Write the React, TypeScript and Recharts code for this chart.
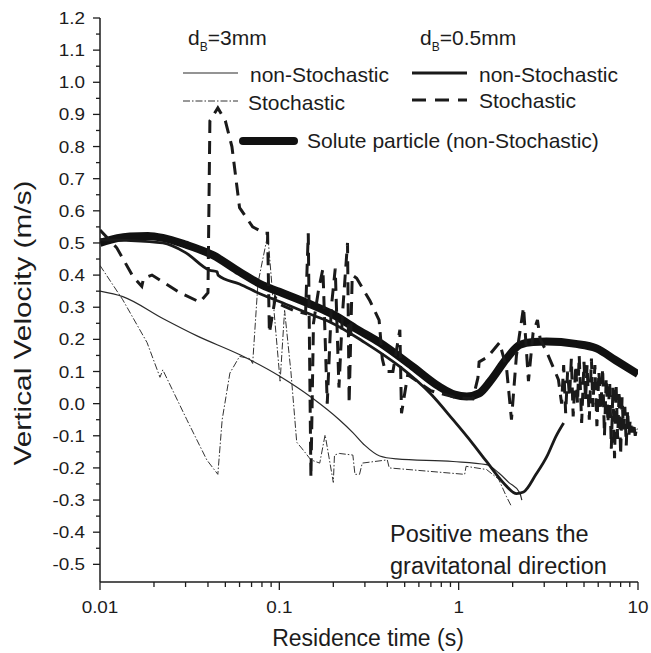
import React from "react";
import { LineChart, Line, XAxis, YAxis } from "recharts";

// residence time (s) / vertical velocity (m/s) pairs
const SMALL_NON: [number, number][] = [
  [0.01, 0.35], [0.0134, 0.333], [0.0224, 0.265], [0.035, 0.21], [0.0603, 0.152],
  [0.1, 0.086], [0.154, 0.016], [0.216, -0.05], [0.257, -0.09], [0.3, -0.13],
  [0.363, -0.163], [0.45, -0.172], [0.93, -0.18], [1.43, -0.19], [1.67, -0.215],
  [1.9, -0.245], [2.19, -0.277], [2.25, -0.3],
];

const SMALL_STOCH: [number, number][] = [
  [0.01, 0.43], [0.0134, 0.323], [0.0183, 0.19], [0.0216, 0.082], [0.0224, 0.105],
  [0.0305, -0.05], [0.0394, -0.175], [0.0454, -0.22], [0.048, -0.05], [0.053, 0.095],
  [0.06, 0.147], [0.0685, 0.14], [0.071, 0.125], [0.076, 0.375], [0.0862, 0.526],
  [0.093, 0.3], [0.101, 0.07], [0.107, 0.29], [0.116, 0.1], [0.125, -0.12],
  [0.133, -0.138], [0.15, -0.175], [0.168, -0.185], [0.18, -0.097], [0.2, -0.245],
  [0.203, -0.16], [0.216, -0.155], [0.257, -0.16], [0.264, -0.22], [0.28, -0.22],
  [0.29, -0.185], [0.4, -0.175], [0.41, -0.2], [1.08, -0.22], [1.1, -0.195],
  [1.43, -0.205], [1.67, -0.235], [1.85, -0.29], [1.97, -0.32],
];

const FINE_NON: [number, number][] = [
  [0.01, 0.51], [0.014, 0.508], [0.0224, 0.5], [0.03, 0.47], [0.0409, 0.415],
  [0.045, 0.41], [0.0455, 0.4], [0.06, 0.372], [0.081, 0.338], [0.1, 0.318],
  [0.154, 0.275], [0.19, 0.255], [0.3, 0.19], [0.47, 0.115], [0.7, 0.03],
  [0.93, -0.05], [1.2, -0.125], [1.43, -0.18], [1.8, -0.25], [2.1, -0.28],
  [2.3, -0.275], [2.7, -0.22], [3.1, -0.165], [3.5, -0.1], [3.85, -0.06],
];

const FINE_STOCH: [number, number][] = [
  [0.01, 0.54], [0.0124, 0.485], [0.0153, 0.395], [0.0171, 0.365], [0.0175, 0.39],
  [0.0195, 0.4], [0.0279, 0.345], [0.036, 0.316], [0.04, 0.345], [0.041, 0.88],
  [0.0454, 0.92], [0.05, 0.88], [0.0544, 0.8], [0.06, 0.61], [0.071, 0.55],
  [0.083, 0.53], [0.086, 0.53], [0.088, 0.22], [0.095, 0.33], [0.1, 0.31],
  [0.12, 0.29], [0.14, 0.28], [0.145, 0.53], [0.15, -0.23], [0.155, 0.25],
  [0.165, 0.35], [0.175, 0.42], [0.185, 0.0], [0.195, 0.3], [0.205, 0.42],
  [0.215, 0.05], [0.225, 0.28], [0.24, 0.5], [0.245, 0.0], [0.255, 0.4],
  [0.27, 0.39], [0.32, 0.32], [0.36, 0.26], [0.375, 0.14], [0.39, 0.1],
  [0.43, 0.1], [0.47, 0.23], [0.48, -0.03], [0.52, 0.09], [0.7, 0.04],
  [0.95, 0.02], [1.2, 0.015], [1.28, 0.08], [1.3, 0.13], [1.45, 0.145],
  [1.69, 0.19], [1.85, 0.11], [1.97, -0.05], [2.1, 0.15], [2.3, 0.3],
  [2.45, 0.07], [2.6, 0.22], [2.75, 0.26], [2.85, 0.2], [3.1, 0.16],
  [3.6, 0.075], [3.75, 0.0], [3.85, 0.12], [3.95, -0.03], [4.05, 0.1],
  [4.15, 0.02], [4.25, 0.14], [4.35, -0.04], [4.5, 0.12], [4.6, 0.0],
  [4.7, 0.15], [4.85, -0.06], [5.0, 0.13], [5.1, 0.01], [5.2, 0.12],
  [5.35, -0.05], [5.5, 0.14], [5.6, -0.01], [5.75, 0.12], [5.9, -0.07],
  [6.05, 0.1], [6.2, -0.02], [6.35, 0.11], [6.5, -0.1], [6.65, 0.08],
  [6.8, -0.06], [6.95, 0.07], [7.1, -0.14], [7.25, 0.05], [7.4, -0.17],
  [7.55, 0.06], [7.7, -0.11], [7.85, 0.04], [8.0, -0.16], [8.15, 0.02],
  [8.3, -0.08], [8.45, -0.01], [8.6, -0.13], [8.75, -0.02], [8.9, -0.1],
  [9.05, -0.05], [9.25, -0.09], [9.45, -0.06], [9.65, -0.1], [9.85, -0.07],
  [10, -0.08],
];

const SOLUTE: [number, number][] = [
  [0.01, 0.5], [0.0125, 0.515], [0.0147, 0.52], [0.0185, 0.522], [0.0224, 0.516],
  [0.03, 0.495], [0.0426, 0.462], [0.06, 0.41], [0.081, 0.368], [0.1, 0.348],
  [0.154, 0.306], [0.2, 0.277], [0.27, 0.232], [0.363, 0.19], [0.555, 0.115],
  [0.78, 0.053], [0.95, 0.028], [1.11, 0.022], [1.3, 0.032], [1.5, 0.07],
  [1.85, 0.14], [2.19, 0.183], [2.6, 0.192], [3.09, 0.193], [4.5, 0.186],
  [5.87, 0.172], [7.5, 0.135], [10, 0.092],
];

const X_MAJOR = [0.01, 0.1, 1, 10];
const X_MINOR = [
  0.02, 0.03, 0.04, 0.05, 0.06, 0.07, 0.08, 0.09,
  0.2, 0.3, 0.4, 0.5, 0.6, 0.7, 0.8, 0.9,
  2, 3, 4, 5, 6, 7, 8, 9,
];
const Y_MAJOR = [
  -0.5, -0.4, -0.3, -0.2, -0.1, 0, 0.1, 0.2, 0.3, 0.4, 0.5, 0.6, 0.7, 0.8, 0.9,
  1.0, 1.1, 1.2,
];
const Y_MINOR = [
  -0.45, -0.35, -0.25, -0.15, -0.05, 0.05, 0.15, 0.25, 0.35, 0.45, 0.55, 0.65,
  0.75, 0.85, 0.95, 1.05, 1.15,
];

const INK = "#1c1c1c";
const FONT = "'Liberation Sans', Arial, Helvetica, sans-serif";
const X_DOMAIN: [number, number] = [0.01, 10];
const Y_DOMAIN: [number, number] = [-0.555, 1.2];

const rows = (pts: [number, number][]) => pts.map(([t, v]) => ({ t, v }));
const isMajor = (list: number[], v: number) => list.some((m) => Math.abs(m - v) < 1e-9);

function BottomTick({ x, y, payload }: any) {
  const major = isMajor(X_MAJOR, payload.value);
  return (
    <g>
      <line x1={x} y1={y} x2={x} y2={y + (major ? 8 : 5)} stroke={INK} strokeWidth={1.3} />
      {major && (
        <g transform={`translate(${x},${y + 31}) scale(1.18,1)`}>
          <text x={0} y={0} textAnchor="middle" fontSize={16} fontFamily={FONT} fill={INK}>
            {String(payload.value)}
          </text>
        </g>
      )}
    </g>
  );
}

function TopTick({ x, y, payload }: any) {
  const major = isMajor(X_MAJOR, payload.value);
  return <line x1={x} y1={y} x2={x} y2={y - (major ? 8 : 5)} stroke={INK} strokeWidth={1.3} />;
}

function LeftTick({ x, y, payload }: any) {
  const major = isMajor(Y_MAJOR, payload.value);
  return (
    <g>
      <line x1={x} y1={y} x2={x - (major ? 7 : 4)} y2={y} stroke={INK} strokeWidth={1.3} />
      {major && (
        <g transform={`translate(${x - 15},${y + 6}) scale(1.18,1)`}>
          <text x={0} y={0} textAnchor="end" fontSize={16} fontFamily={FONT} fill={INK}>
            {payload.value.toFixed(1)}
          </text>
        </g>
      )}
    </g>
  );
}

const axisLine = { stroke: INK, strokeWidth: 1.5 };

export default function App() {
  const xTicks = [...X_MAJOR, ...X_MINOR].sort((a, b) => a - b);
  const yTicks = [...Y_MAJOR, ...Y_MINOR].sort((a, b) => a - b);

  return (
    <div style={{ position: "absolute", left: 0, top: 0, width: 651, height: 653, background: "#fff" }}>
      <LineChart width={651} height={653} margin={{ top: 18, right: 13, bottom: 0, left: 0 }}>
        <XAxis
          xAxisId="b"
          dataKey="t"
          type="number"
          scale="log"
          domain={X_DOMAIN}
          allowDataOverflow
          ticks={xTicks}
          interval={0}
          tickLine={false}
          tickSize={0}
          tickMargin={0}
          height={71}
          axisLine={axisLine}
          tick={<BottomTick />}
        />
        <XAxis
          xAxisId="top"
          orientation="top"
          dataKey="t"
          type="number"
          scale="log"
          domain={X_DOMAIN}
          allowDataOverflow
          ticks={xTicks}
          interval={0}
          tickLine={false}
          tickSize={0}
          tickMargin={0}
          height={0}
          axisLine={axisLine}
          tick={<TopTick />}
        />
        <YAxis
          yAxisId="l"
          type="number"
          domain={Y_DOMAIN}
          allowDataOverflow
          ticks={yTicks}
          interval={0}
          tickLine={false}
          tickSize={0}
          tickMargin={0}
          width={100}
          axisLine={axisLine}
          tick={<LeftTick />}
        />
        <YAxis
          yAxisId="r"
          orientation="right"
          type="number"
          domain={Y_DOMAIN}
          allowDataOverflow
          tick={false}
          tickLine={false}
          width={0}
          axisLine={axisLine}
        />
        <Line xAxisId="b" yAxisId="l" data={rows(SMALL_NON)} dataKey="v" type="monotone"
          stroke="#2a2a2a" strokeWidth={1.2} dot={false} isAnimationActive={false} />
        <Line xAxisId="b" yAxisId="l" data={rows(SMALL_STOCH)} dataKey="v" type="linear"
          stroke="#333" strokeWidth={1} strokeDasharray="7 2 1.5 2" dot={false} isAnimationActive={false} />
        <Line xAxisId="b" yAxisId="l" data={rows(SOLUTE)} dataKey="v" type="monotone"
          stroke="#111" strokeWidth={8} dot={false} isAnimationActive={false} />
        <Line xAxisId="b" yAxisId="l" data={rows(FINE_NON)} dataKey="v" type="monotone"
          stroke="#1a1a1a" strokeWidth={2.8} dot={false} isAnimationActive={false} />
        <Line xAxisId="b" yAxisId="l" data={rows(FINE_STOCH)} dataKey="v" type="linear"
          stroke="#1a1a1a" strokeWidth={3} strokeDasharray="13 8" dot={false} isAnimationActive={false} />
      </LineChart>

      <svg width={651} height={653} style={{ position: "absolute", left: 0, top: 0, pointerEvents: "none" }}
        fontFamily={FONT} fill={INK}>
        <text x={368} y={646} textAnchor="middle" fontSize={23}>Residence time (s)</text>
        <text transform="translate(31,323) rotate(-90)" textAnchor="middle" fontSize={24}
          textLength={285} lengthAdjust="spacingAndGlyphs">Vertical Velocity (m/s)</text>

        <text x={188} y={45} fontSize={21}>d<tspan fontSize={12} dy={6}>B</tspan><tspan dy={-6}>=3mm</tspan></text>
        <text x={420} y={45} fontSize={21}>d<tspan fontSize={12} dy={6}>B</tspan><tspan dy={-6}>=0.5mm</tspan></text>

        <line x1={183} y1={73} x2={238} y2={73} stroke="#2a2a2a" strokeWidth={1.2} />
        <text x={250} y={82} fontSize={21}>non-Stochastic</text>
        <line x1={183} y1={101} x2={238} y2={101} stroke="#333" strokeWidth={1} strokeDasharray="7 2 1.5 2" />
        <text x={248} y={110} fontSize={21}>Stochastic</text>

        <line x1={412} y1={73} x2={467} y2={73} stroke="#1a1a1a" strokeWidth={2.8} />
        <text x={479} y={82} fontSize={21}>non-Stochastic</text>
        <line x1={412} y1={100} x2={467} y2={100} stroke="#1a1a1a" strokeWidth={3} strokeDasharray="14 9" />
        <text x={479} y={108} fontSize={21}>Stochastic</text>

        <line x1={243} y1={141} x2={294} y2={141} stroke="#111" strokeWidth={8} strokeLinecap="round" />
        <text x={307} y={148} fontSize={21}>Solute particle (non-Stochastic)</text>

        <text x={390} y={542} fontSize={23.5}>Positive means the</text>
        <text x={390} y={574} fontSize={23.5}>gravitatonal direction</text>
      </svg>
    </div>
  );
}
